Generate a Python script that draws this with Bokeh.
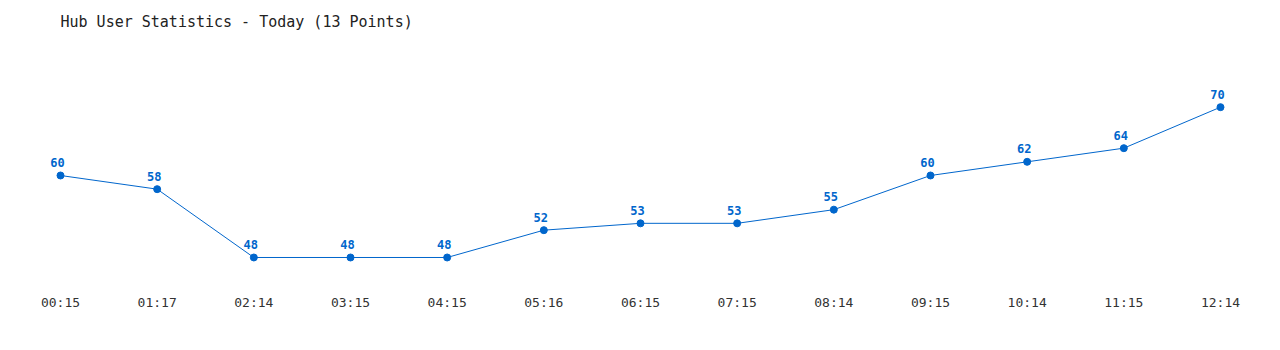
from bokeh.plotting import figure
from bokeh.models import ColumnDataSource, Range1d, FixedTicker
from bokeh.embed import file_html
from bokeh.resources import INLINE
from bokeh.core.properties import value

times = ["00:15", "01:17", "02:14", "03:15", "04:15", "05:16", "06:15",
         "07:15", "08:14", "09:15", "10:14", "11:15", "12:14"]
users = [60, 58, 48, 48, 48, 52, 53, 53, 55, 60, 62, 64, 70]

idx = list(range(len(times)))
src = ColumnDataSource(dict(x=idx, y=users, lbl=[str(v) for v in users]))

p = figure(width=1280, height=350, output_backend="svg", toolbar_location=None,
           x_range=Range1d(-0.6207, 12.6207), y_range=Range1d(44.34, 79.756),
           min_border_left=0, min_border_right=0, min_border_top=40,
           min_border_bottom=68, title="Hub User Statistics - Today (13 Points)")
p.title.text_font = "DejaVu Sans Mono"
p.title.text_font_size = "15px"
p.title.text_font_style = "normal"
p.title.text_color = "#222222"
p.title.align = "left"
p.title.offset = 60
p.title.standoff = 19

p.outline_line_color = None
p.xgrid.visible = False
p.ygrid.visible = False
p.yaxis.visible = False

ax = p.xaxis[0]
ax.ticker = FixedTicker(ticks=idx)
ax.major_label_overrides = {i: t for i, t in zip(idx, times)}
ax.axis_line_color = None
ax.major_tick_line_color = None
ax.minor_tick_line_color = None
ax.major_label_text_font = "DejaVu Sans Mono"
ax.major_label_text_font_size = "13px"
ax.major_label_text_color = "#333333"
ax.major_label_standoff = 6

p.line("x", "y", source=src, line_color="#0066cc", line_width=1)
p.scatter("x", "y", source=src, size=7, fill_color="#0066cc", line_color="#0066cc")
p.text("x", "y", text="lbl", source=src, text_font=value("DejaVu Sans Mono"),
       text_font_size="12px", text_font_style="bold", text_color="#0066cc",
       text_align="center", text_baseline="middle", x_offset=-3, y_offset=-13)

open("out.html", "w").write(file_html(p, INLINE))
